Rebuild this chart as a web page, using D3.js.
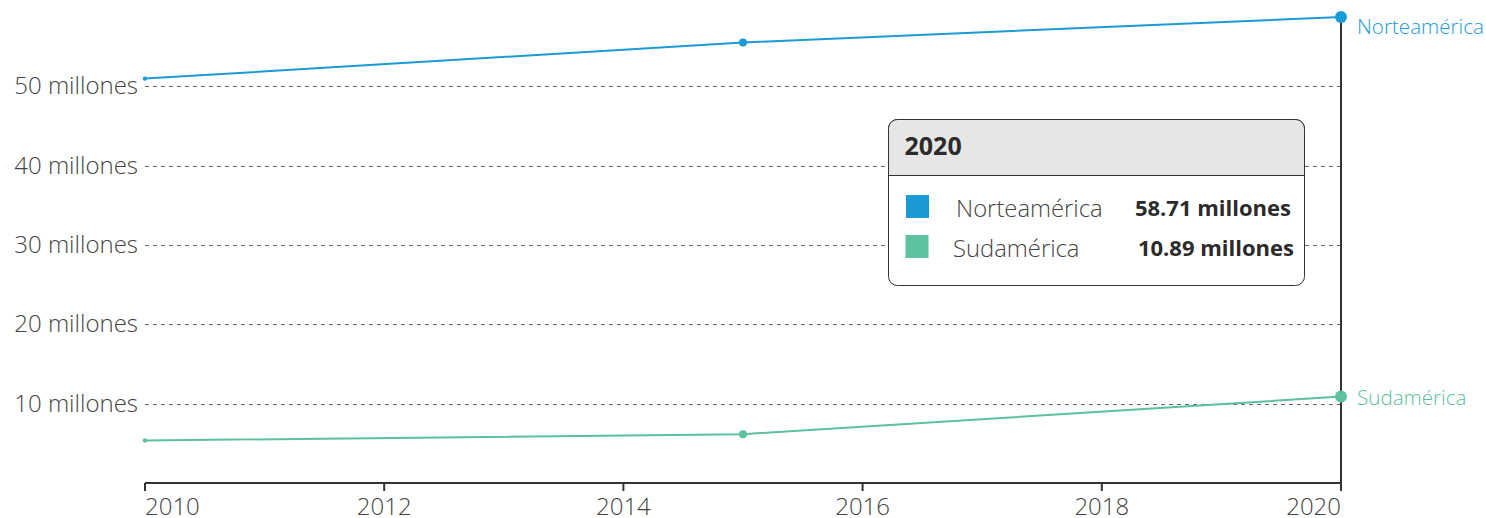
<!DOCTYPE html>
<html>
<head>
<meta charset="utf-8">
<script src="https://cdn.jsdelivr.net/npm/d3@7"></script>
<style>
  body { margin: 0; background: #fff; }
  svg { font-family: "Open Sans", sans-serif; }
</style>
</head>
<body>
<svg id="chart" width="1486" height="518"></svg>
<script>
// population by region, millions
const years = [2010, 2015, 2020];
const norteamerica = [50.95, 55.5, 58.71];
const sudamerica = [5.35, 6.15, 10.89];
const yTicks = [10, 20, 30, 40, 50];
const xTicks = [2010, 2012, 2014, 2016, 2018, 2020];

const seriesNames = ["Norteamérica", "Sudamérica"];
const seriesColors = ["#1a9bd7", "#5bc1a1"];

const svg = d3.select("#chart");
const margin = { top: 17, right: 145, bottom: 35, left: 145 };
const width = 1486, height = 518;

const x = d3.scaleLinear().domain([2010, 2020]).range([margin.left, width - margin.right]);
const y = d3.scaleLinear().domain([0, 58.71]).range([height - margin.bottom, margin.top]);

// gridlines + y labels
const grid = svg.append("g");
yTicks.forEach(t => {
  grid.append("line")
    .attr("x1", x(2010)).attr("x2", x(2020))
    .attr("y1", Math.round(y(t)) + 0.5).attr("y2", Math.round(y(t)) + 0.5)
    .attr("stroke", "#666").attr("stroke-dasharray", "4,4");
  grid.append("text")
    .attr("x", x(2010) - 7)
    .attr("y", y(t) + 8)
    .attr("text-anchor", "end")
    .attr("font-size", "24px")
    .attr("font-weight", 300)
    .attr("fill", "#444")
    .text(t + " millones");
});

// x axis
const xAxis = svg.append("g").attr("transform", "translate(0," + y(0) + ")");
xAxis.append("line")
  .attr("x1", x(2010)).attr("x2", x(2020))
  .attr("stroke", "#333").attr("stroke-width", 2);
xTicks.forEach((t, i) => {
  xAxis.append("line")
    .attr("x1", x(t)).attr("x2", x(t))
    .attr("y1", 0).attr("y2", 8)
    .attr("stroke", "#333").attr("stroke-width", 2);
  xAxis.append("text")
    .attr("x", x(t))
    .attr("y", 32)
    .attr("text-anchor", i === 0 ? "start" : (i === xTicks.length - 1 ? "end" : "middle"))
    .attr("font-size", "24px")
    .attr("font-weight", 300)
    .attr("fill", "#444")
    .text(t);
});

// hover line at 2020
svg.append("line")
  .attr("x1", x(2020)).attr("x2", x(2020))
  .attr("y1", y(58.71)).attr("y2", y(0) + 8)
  .attr("stroke", "#333").attr("stroke-width", 2);

const line = d3.line().x(d => x(d[0])).y(d => y(d[1]));
const allSeries = [norteamerica, sudamerica];

allSeries.forEach((vals, si) => {
  const pts = years.map((yr, i) => [yr, vals[i]]);
  svg.append("path")
    .attr("d", line(pts))
    .attr("fill", "none")
    .attr("stroke", seriesColors[si])
    .attr("stroke-width", 2);
  svg.selectAll(null).data(pts).enter().append("circle")
    .attr("cx", d => x(d[0]))
    .attr("cy", d => y(d[1]))
    .attr("r", (d, i) => [2.2, 4, 6][i])
    .attr("fill", seriesColors[si]);
  svg.append("text")
    .attr("x", x(2020) + 16)
    .attr("y", si === 0 ? y(vals[2]) + 17 : y(vals[2]) + 8)
    .attr("font-size", "20.6px")
    .attr("font-weight", 300)
    .attr("fill", seriesColors[si])
    .text(seriesNames[si]);
});

// tooltip
const tip = svg.append("g").attr("transform", "translate(888.5,119.5)");
const tw = 416, th = 166, hh = 56;
tip.append("rect").attr("width", tw).attr("height", th).attr("rx", 9)
  .attr("fill", "#fff").attr("stroke", "#333");
tip.append("path")
  .attr("d", `M0,${hh} V9 A9,9 0 0 1 9,0 H${tw - 9} A9,9 0 0 1 ${tw},9 V${hh} Z`)
  .attr("fill", "#e6e7e5").attr("stroke", "#333");
tip.append("line").attr("x1", 0).attr("x2", tw).attr("y1", hh).attr("y2", hh).attr("stroke", "#333");
tip.append("text").attr("x", 16).attr("y", 35)
  .attr("font-size", "25px").attr("font-weight", "bold").attr("fill", "#2b2b2b")
  .text(years[2]);
allSeries.forEach((vals, si) => {
  const ry = 76 + si * 40;
  tip.append("rect").attr("x", 17.5 - si * 0.5).attr("y", ry - 0.5)
    .attr("width", 23).attr("height", 23).attr("fill", seriesColors[si]);
  tip.append("text").attr("x", 67.5 - si * 3).attr("y", ry + 21)
    .attr("font-size", "23.8px").attr("font-weight", 300).attr("fill", "#444")
    .text(seriesNames[si]);
  tip.append("text").attr("x", 402.5 + si * 3).attr("y", ry + 20)
    .attr("text-anchor", "end")
    .attr("font-size", "22px").attr("font-weight", "bold").attr("fill", "#2b2b2b")
    .text(vals[2].toFixed(2) + " millones");
});
</script>
</body>
</html>
